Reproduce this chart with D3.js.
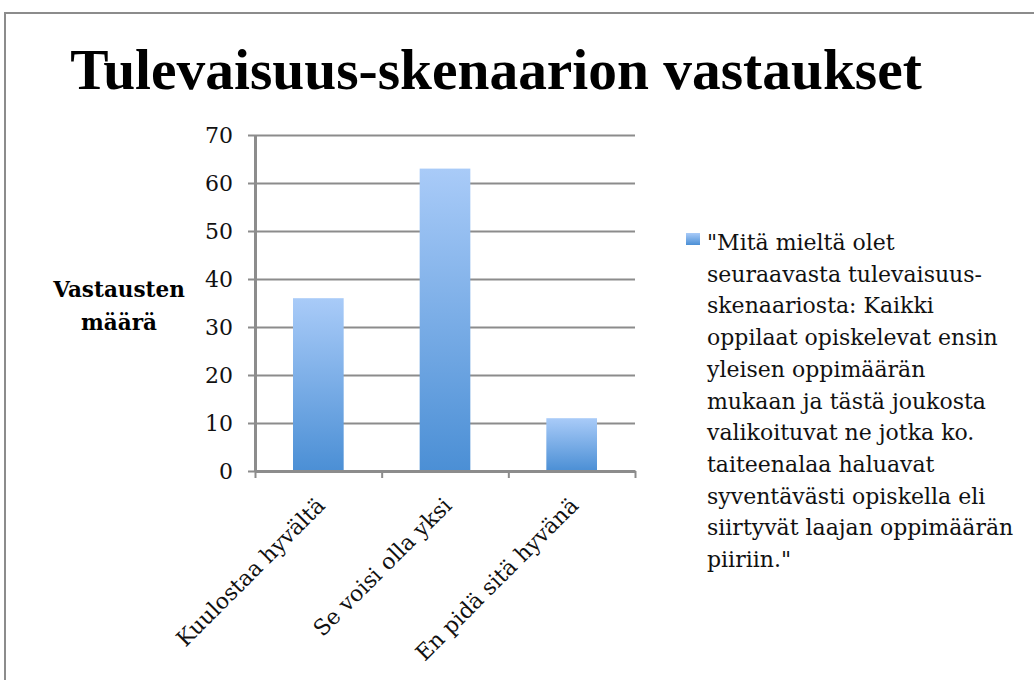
<!DOCTYPE html>
<html lang="fi">
<head>
<meta charset="UTF-8">
<title>Tulevaisuus-skenaarion vastaukset</title>
<script src="https://d3js.org/d3.v7.min.js"></script>
<style>
  body { margin: 0; background: #fff; }
  svg { display: block; }
</style>
</head>
<body>
<svg id="chart" width="1034" height="680"></svg>
<script>
  // data
  const categories = ["Kuulostaa hyvältä", "Se voisi olla yksi", "En pidä sitä hyvänä"];
  const values = [36, 63, 11];
  const yTicks = [0, 10, 20, 30, 40, 50, 60, 70];
  const titleText = "Tulevaisuus-skenaarion vastaukset";
  const yTitleLines = ["Vastausten", "määrä"];
  const legendLines = [
    "\"Mitä mieltä olet",
    "seuraavasta tulevaisuus-",
    "skenaariosta: Kaikki",
    "oppilaat opiskelevat ensin",
    "yleisen oppimäärän",
    "mukaan ja tästä joukosta",
    "valikoituvat ne jotka ko.",
    "taiteenalaa haluavat",
    "syventävästi opiskella eli",
    "siirtyvät laajan oppimäärän",
    "piiriin.\""
  ];

  const svg = d3.select("#chart");
  const serif = "'DejaVu Serif', 'Liberation Serif', serif";
  const grey = "#8c8c8c";

  // outer frame
  svg.append("rect")
    .attr("x", 5).attr("y", 13)
    .attr("width", 1100).attr("height", 700)
    .attr("fill", "none").attr("stroke", grey).attr("stroke-width", 2);

  // title, fitted to width
  const title = svg.append("text")
    .attr("x", 496).attr("y", 89)
    .attr("text-anchor", "middle")
    .attr("font-family", "'Liberation Serif', serif")
    .attr("font-weight", "bold")
    .attr("font-size", 46)
    .text(titleText);
  const tw = title.node().getComputedTextLength();
  title.attr("font-size", 46 * 852 / tw);

  const margin = { left: 255, top: 135, right: 635, bottom: 471 };
  const w = margin.right - margin.left;
  const h = margin.bottom - margin.top;

  const g = svg.append("g").attr("transform", `translate(${margin.left},${margin.top})`);

  const x = d3.scaleBand().domain(categories).range([0, w]).paddingInner(0.6).paddingOuter(0.3);
  const y = d3.scaleLinear().domain([0, 70]).range([h, 0]);

  // gradient
  const grad = svg.append("defs").append("linearGradient")
    .attr("id", "barGrad").attr("x1", 0).attr("y1", 0).attr("x2", 0).attr("y2", 1);
  grad.append("stop").attr("offset", "0%").attr("stop-color", "#a9cbf8");
  grad.append("stop").attr("offset", "100%").attr("stop-color", "#4b8fd5");

  // gridlines (also act as the small left ticks)
  g.append("g")
    .attr("transform", "translate(-7,0)")
    .call(d3.axisLeft(y).tickValues(yTicks).tickSize(-w - 7).tickFormat(""))
    .call(s => s.select(".domain").remove())
    .selectAll("line").attr("stroke", grey).attr("stroke-width", 2);

  // bars
  g.selectAll(".bar")
    .data(values)
    .join("rect")
    .attr("class", "bar")
    .attr("x", (d, i) => x(categories[i]))
    .attr("y", d => y(d))
    .attr("width", x.bandwidth())
    .attr("height", d => h - y(d))
    .attr("fill", "url(#barGrad)");

  // y axis
  const yAxis = g.append("g")
    .call(d3.axisLeft(y).tickValues(yTicks).tickSize(0).tickPadding(22));
  yAxis.select(".domain").attr("stroke", grey).attr("stroke-width", 3);
  yAxis.selectAll("text")
    .attr("font-family", serif).attr("font-size", 22).attr("fill", "#111");

  // x axis: ticks at band boundaries
  const xb = d3.scaleLinear().domain([0, categories.length]).range([0, w]);
  const xAxis = g.append("g")
    .attr("transform", `translate(0,${h})`)
    .call(d3.axisBottom(xb).tickValues(d3.range(categories.length + 1)).tickSize(7).tickSizeOuter(0).tickFormat(""));
  xAxis.select(".domain").attr("stroke", grey).attr("stroke-width", 3);
  xAxis.selectAll("line").attr("stroke", grey).attr("stroke-width", 2);

  // category labels
  g.append("g")
    .attr("transform", `translate(0,${h})`)
    .call(d3.axisBottom(x).tickSize(0).tickPadding(0))
    .call(s => s.select(".domain").remove())
    .selectAll("text")
    .attr("font-family", serif).attr("font-size", 22).attr("fill", "#111")
    .attr("text-anchor", "end")
    .attr("dy", 0)
    .attr("transform", "translate(8,36) rotate(-45)");

  // y title
  svg.append("text")
    .attr("x", 119).attr("y", 297)
    .attr("text-anchor", "middle")
    .attr("font-family", serif).attr("font-weight", "bold").attr("font-size", 21.5)
    .selectAll("tspan").data(yTitleLines).join("tspan")
    .attr("x", 119).attr("dy", (d, i) => i ? 33 : 0)
    .text(d => d);

  // legend
  const legend = svg.append("g").attr("transform", "translate(686,233)");
  legend.append("rect")
    .attr("width", 14).attr("height", 12)
    .attr("fill", "url(#barGrad)");
  legend.append("text")
    .attr("x", 21).attr("y", 17)
    .attr("font-family", serif).attr("font-size", 22).attr("fill", "#111")
    .selectAll("tspan").data(legendLines).join("tspan")
    .attr("x", 21).attr("dy", (d, i) => i ? 31.7 : 0)
    .text(d => d);
</script>
</body>
</html>
